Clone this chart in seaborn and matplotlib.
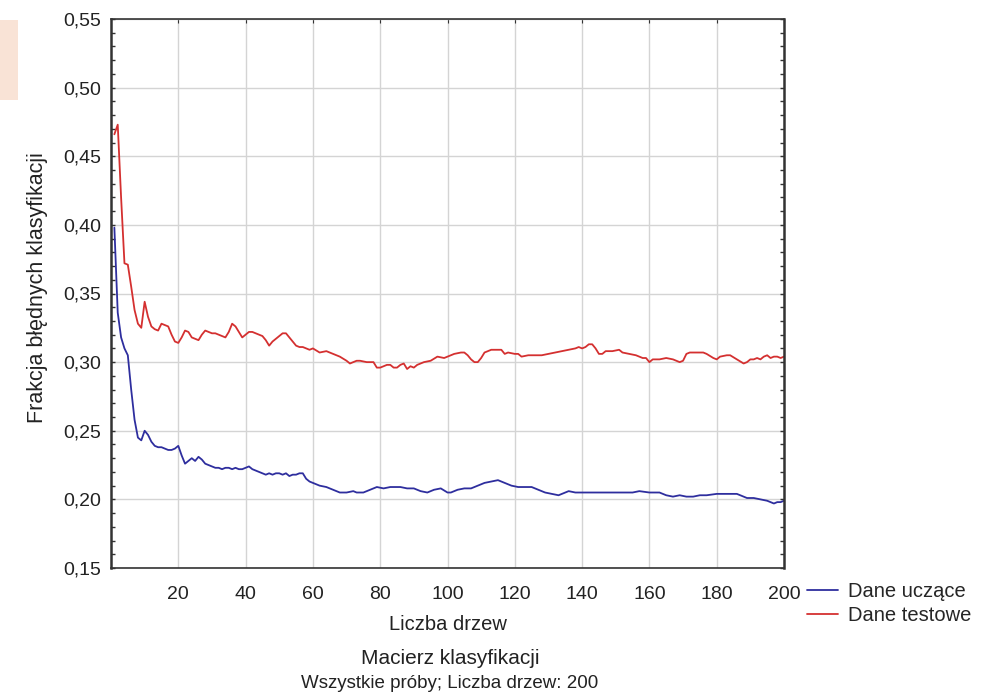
import pandas as pd
import matplotlib
matplotlib.use("Agg")
import matplotlib.pyplot as plt
import matplotlib.ticker as mticker
from matplotlib.patches import Rectangle
import seaborn as sns

# Dane: frakcja bledow vs liczba drzew
trees_train = [1, 2, 3, 4, 5, 6, 7, 8, 9, 10, 11, 12, 13, 14, 15, 16, 17, 18, 19, 20,
               21, 22, 23, 24, 25, 26, 27, 28, 29, 30, 31, 32, 33, 34, 35, 36, 37, 38, 39, 40,
               41, 42, 43, 44, 45, 46, 47, 48, 49, 50, 51, 52, 53, 54, 55, 56, 57, 58, 59, 60,
               62, 64, 66, 68, 70, 72, 73, 75, 77, 79, 81, 83, 85, 86, 88, 90, 92, 94, 96, 98,
               100, 101, 103, 105, 107, 109, 111, 113, 115, 116, 117, 119, 121, 123, 125, 127,
               129, 131, 133, 135, 136, 138, 140, 143, 146, 149, 152, 155, 157, 160, 163, 165,
               167, 169, 171, 173, 175, 177, 180, 183, 186, 188, 189, 191, 193, 195, 196, 197,
               198, 199, 200]
err_train = [0.398, 0.336, 0.318, 0.310, 0.305, 0.280, 0.258, 0.245, 0.243, 0.250, 0.247, 0.242,
             0.239, 0.238, 0.238, 0.237, 0.236, 0.236, 0.237, 0.239, 0.232, 0.226, 0.228, 0.230,
             0.228, 0.231, 0.229, 0.226, 0.225, 0.224, 0.223, 0.223, 0.222, 0.223, 0.223, 0.222,
             0.223, 0.222, 0.222, 0.223, 0.224, 0.222, 0.221, 0.220, 0.219, 0.218, 0.219, 0.218,
             0.219, 0.219, 0.218, 0.219, 0.217, 0.218, 0.218, 0.219, 0.219, 0.215, 0.213, 0.212,
             0.210, 0.209, 0.207, 0.205, 0.205, 0.206, 0.205, 0.205, 0.207, 0.209, 0.208, 0.209,
             0.209, 0.209, 0.208, 0.208, 0.206, 0.205, 0.207, 0.208, 0.205, 0.205, 0.207, 0.208,
             0.208, 0.210, 0.212, 0.213, 0.214, 0.213, 0.212, 0.210, 0.209, 0.209, 0.209, 0.207,
             0.205, 0.204, 0.203, 0.205, 0.206, 0.205, 0.205, 0.205, 0.205, 0.205, 0.205, 0.205,
             0.206, 0.205, 0.205, 0.203, 0.202, 0.203, 0.202, 0.202, 0.203, 0.203, 0.204, 0.204,
             0.204, 0.202, 0.201, 0.201, 0.200, 0.199, 0.198, 0.197, 0.198, 0.198, 0.199]

trees_test = [1, 2, 3, 4, 5, 6, 7, 8, 9, 10, 11, 12, 13, 14, 15, 16, 17, 18, 19, 20,
              21, 22, 23, 24, 25, 26, 27, 28, 29, 30, 31, 32, 33, 34, 35, 36, 37, 38, 39, 40,
              41, 42, 43, 44, 45, 46, 47, 48, 49, 50, 51, 52, 53, 54, 55, 56, 57, 58, 59, 60,
              62, 64, 66, 68, 70, 71, 72, 73, 74, 76, 78, 79, 80, 81, 82, 83, 84, 85, 86, 87,
              88, 89, 90, 91, 92, 93, 95, 97, 99, 101, 102, 104, 105, 106, 107, 108, 109, 110,
              111, 113, 115, 116, 117, 118, 120, 121, 122, 124, 126, 128, 130, 132, 134, 136,
              138, 139, 140, 141, 142, 143, 144, 145, 146, 147, 149, 151, 152, 154, 156, 158,
              159, 160, 161, 163, 165, 167, 169, 170, 171, 172, 174, 176, 177, 179, 180, 181,
              183, 184, 186, 188, 189, 190, 191, 192, 193, 194, 195, 196, 197, 198, 199, 200]
err_test = [0.466, 0.473, 0.420, 0.372, 0.371, 0.355, 0.338, 0.328, 0.325, 0.344, 0.333, 0.326,
            0.324, 0.323, 0.328, 0.327, 0.326, 0.320, 0.315, 0.314, 0.318, 0.323, 0.322, 0.318,
            0.317, 0.316, 0.320, 0.323, 0.322, 0.321, 0.321, 0.320, 0.319, 0.318, 0.322, 0.328,
            0.326, 0.322, 0.318, 0.320, 0.322, 0.322, 0.321, 0.320, 0.319, 0.316, 0.312, 0.315,
            0.317, 0.319, 0.321, 0.321, 0.318, 0.315, 0.312, 0.311, 0.311, 0.310, 0.309, 0.310,
            0.307, 0.308, 0.306, 0.304, 0.301, 0.299, 0.300, 0.301, 0.301, 0.300, 0.300, 0.296,
            0.296, 0.297, 0.298, 0.298, 0.296, 0.296, 0.298, 0.299, 0.295, 0.297, 0.296, 0.298,
            0.299, 0.300, 0.301, 0.304, 0.303, 0.305, 0.306, 0.307, 0.307, 0.305, 0.302, 0.300,
            0.300, 0.303, 0.307, 0.309, 0.309, 0.309, 0.306, 0.307, 0.306, 0.306, 0.304, 0.305,
            0.305, 0.305, 0.306, 0.307, 0.308, 0.309, 0.310, 0.311, 0.310, 0.311, 0.313, 0.313,
            0.310, 0.306, 0.306, 0.308, 0.308, 0.309, 0.307, 0.306, 0.305, 0.303, 0.303, 0.300,
            0.302, 0.302, 0.303, 0.302, 0.300, 0.301, 0.306, 0.307, 0.307, 0.307, 0.306, 0.303,
            0.302, 0.304, 0.305, 0.305, 0.302, 0.299, 0.300, 0.302, 0.302, 0.303, 0.302, 0.304,
            0.305, 0.303, 0.304, 0.304, 0.303, 0.304]

series_names = ["Dane uczące", "Dane testowe"]
colors = ["#2e2e9e", "#d43030"]
x_ticks = [20, 40, 60, 80, 100, 120, 140, 160, 180, 200]
y_ticks = [0.15, 0.20, 0.25, 0.30, 0.35, 0.40, 0.45, 0.50, 0.55]

df = pd.concat([
    pd.DataFrame({"trees": trees_train, "err": err_train, "series": series_names[0]}),
    pd.DataFrame({"trees": trees_test, "err": err_test, "series": series_names[1]}),
])

sns.set_style("whitegrid")
plt.rcParams['font.family'] = ['Liberation Sans', 'DejaVu Sans']

fig = plt.figure(figsize=(9.83, 7.0), dpi=100)
ax = fig.add_axes([111 / 983, 1 - 568 / 700, (784 - 111) / 983, (568 - 19) / 700])

sns.lineplot(data=df, x="trees", y="err", hue="series", palette=colors,
             linewidth=1.3, ax=ax, legend=False)

ax.set_xlim(0, 200)
ax.set_ylim(0.15, 0.55)
ax.set_xticks(x_ticks)
ax.set_yticks(y_ticks)
ax.set_yticklabels([f"{v:.2f}".replace(".", ",") for v in y_ticks])
ax.yaxis.set_minor_locator(mticker.MultipleLocator(0.01))
ax.grid(True, which='major', color='#d4d4d4', linewidth=1)
ax.grid(False, which='minor')
ax.tick_params(axis='both', which='major', labelsize=14, colors='#222222')
ax.tick_params(axis='y', which='both', left=True, right=True, direction='in', length=3, width=1, color='#333333')
ax.tick_params(axis='y', which='major', pad=7)
ax.tick_params(axis='x', which='major', bottom=False, top=True, direction='in', length=3, color='#333333')
ax.tick_params(axis='x', pad=13)
for sp in ax.spines.values():
    sp.set_visible(True)
    sp.set_color('#333333')
    sp.set_linewidth(1.2)
ax.spines['left'].set_linewidth(1.8)
ax.spines['right'].set_linewidth(1.8)

ax.set_xlabel("")
ax.set_ylabel("Frakcja błędnych klasyfikacji", fontsize=15.5, color='#222222')
ax.yaxis.set_label_coords(-0.094, 0.51)

fig.text(448 / 983, 1 - 625 / 700, "Liczba drzew", ha='center', va='center', fontsize=14.5, color='#222222')
fig.text(450 / 983, 1 - 658 / 700, "Macierz klasyfikacji", ha='center', va='center', fontsize=15, color='#222222')
fig.text(450 / 983, 1 - 684 / 700, "Wszystkie próby; Liczba drzew: 200", ha='center', va='center', fontsize=13.5, color='#222222')

handles = [plt.Line2D([], [], color=c, linewidth=1.3) for c in colors]
fig.legend(handles, series_names, loc='upper left', bbox_to_anchor=(799 / 983, 1 - 574 / 700),
           frameon=False, fontsize=14.5, handlelength=1.55, labelspacing=0.25, handletextpad=0.5,
           borderaxespad=0)

# jasny prostokat w lewym gornym rogu
fig.patches.append(Rectangle((0, 1 - 100 / 700), 18 / 983, 80 / 700, transform=fig.transFigure,
                             facecolor='#f9e3d6', edgecolor='none'))

fig.savefig("out.png", dpi=100)
